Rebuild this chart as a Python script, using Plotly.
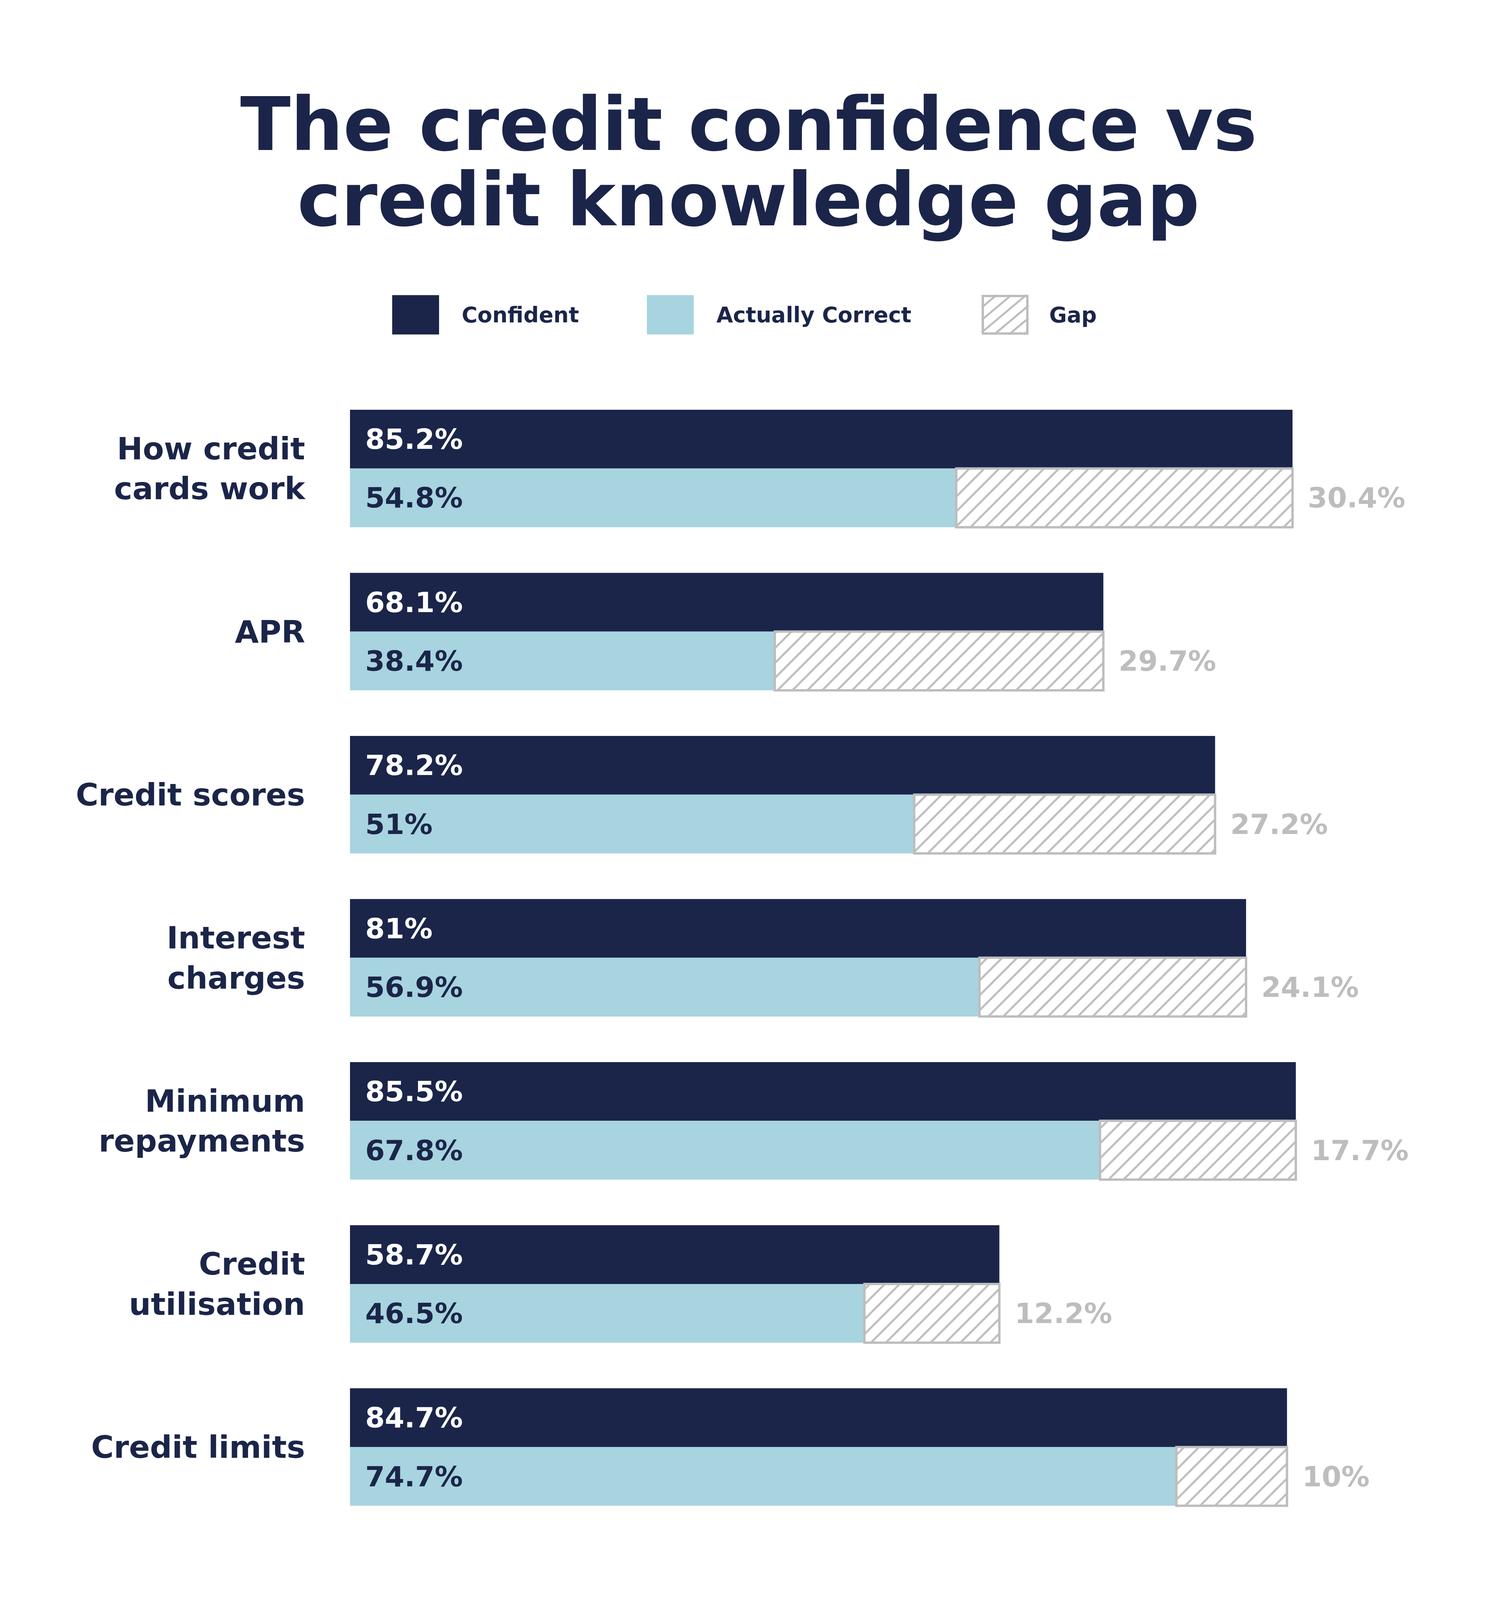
import plotly.graph_objects as go

# ---------------- data ----------------
categories = ["How credit<br>cards work", "APR", "Credit scores", "Interest<br>charges",
              "Minimum<br>repayments", "Credit<br>utilisation", "Credit limits"]
confident = [85.2, 68.1, 78.2, 81.0, 85.5, 58.7, 84.7]
correct = [54.8, 38.4, 51.0, 56.9, 67.8, 46.5, 74.7]
gap = [30.4, 29.7, 27.2, 24.1, 17.7, 12.2, 10.0]
series_names = ["Confident", "Actually Correct", "Gap"]
title_lines = ["The credit confidence vs", "credit knowledge gap"]

# ---------------- style / layout (design page = 3840 x 4951) ----------------
PAGE_W, PAGE_H = 3840, 4951
OFF = 8                      # body margin of the html page
FIG_W = PAGE_W - 2 * OFF
FIG_H = PAGE_H - 2 * OFF     # height follows the window (100vh - 16px)
ML = 896 - OFF
MR = FIG_W - (3728 - OFF)
PLOT_TOP, PLOT_BOT = 1196.5, 4731.5   # page pixels of the plot area
NAVY = "#1B2549"
BLUE = "#A7D4DF"
GREY = "#BDBDBD"
FONT = "DejaVu Sans"
PAD = "\u2002"


def fmt(v):
    return f"{v:g}%"


def fx(px):
    """page x pixel -> paper fraction"""
    return (px - OFF - ML) / (FIG_W - ML - MR)


def fy(py):
    """page y pixel -> paper fraction (vertical layout scales with window)"""
    return 1 - (py - OFF) / FIG_H


fig = go.Figure()

fig.add_trace(go.Bar(
    y=categories, x=confident, orientation="h", name=series_names[0],
    offsetgroup="c", marker=dict(color=NAVY, line=dict(width=0)),
    text=[PAD + fmt(v) for v in confident], textposition="inside",
    insidetextanchor="start", textangle=0, constraintext="none",
    textfont=dict(family=FONT, size=72, color="white", weight=700),
    showlegend=False,
))
fig.add_trace(go.Bar(
    y=categories, x=correct, orientation="h", name=series_names[1],
    offsetgroup="a", marker=dict(color=BLUE, line=dict(width=0)),
    text=[PAD + fmt(v) for v in correct], textposition="inside",
    insidetextanchor="start", textangle=0, constraintext="none",
    textfont=dict(family=FONT, size=72, color=NAVY, weight=700),
    showlegend=False,
))
fig.add_trace(go.Bar(
    y=categories, x=gap, base=correct, orientation="h", name=series_names[2],
    offsetgroup="a",
    marker=dict(color="white", line=dict(color=GREY, width=6),
                pattern=dict(shape="/", fgcolor=GREY, bgcolor="white",
                             size=27, solidity=0.19, fillmode="replace")),
    text=[PAD + fmt(v) for v in gap], textposition="outside", textangle=0,
    constraintext="none", cliponaxis=False,
    textfont=dict(family=FONT, size=72, color=GREY, weight=700),
    showlegend=False,
))

# ---------------- title ----------------
annotations = []
for line, cy in zip(title_lines, [384, 618]):
    annotations.append(dict(
        text=line, xref="paper", yref="paper", x=fx(1916), y=fy(cy),
        xanchor="center", yanchor="middle", showarrow=False,
        font=dict(family=FONT, size=189, color=NAVY, weight=700),
    ))

# ---------------- legend (manual, large swatches) ----------------
shapes = []
sw_top, sw_bot = 912, 1034
sw_cy = (sw_top + sw_bot) / 2
sw_size = 120
sw_x = [1004, 1656, 2513]
txt_x = [1180, 1832, 2684]
fills = [NAVY, BLUE, None]
for name, x0, tx, fc in zip(series_names, sw_x, txt_x, fills):
    base = dict(xref="paper", yref="paper", xsizemode="pixel", xanchor=fx(x0),
                layer="above")
    if fc is not None:
        shapes.append(dict(base, type="rect", x0=0, x1=sw_size,
                           y0=fy(sw_bot), y1=fy(sw_top),
                           fillcolor=fc, line=dict(width=0)))
    else:
        step = 38
        c = -sw_size
        while c < sw_size:
            pts = []
            for t in [0, sw_size]:
                u = t - c
                if 0 <= u <= sw_size:
                    pts.append((t, u))
            for u in [0, sw_size]:
                t = u + c
                if 0 <= t <= sw_size:
                    pts.append((t, u))
            pts = sorted(set(pts))
            if len(pts) >= 2:
                (ax, au), (bx, bu) = pts[0], pts[-1]
                shapes.append(dict(base, type="line", x0=ax, x1=bx,
                                   y0=fy(sw_bot - au * (sw_bot - sw_top) / sw_size),
                                   y1=fy(sw_bot - bu * (sw_bot - sw_top) / sw_size),
                                   line=dict(color=GREY, width=5)))
            c += step
        shapes.append(dict(base, type="rect", x0=3, x1=sw_size - 3,
                           y0=fy(sw_bot - 3), y1=fy(sw_top + 3),
                           fillcolor="rgba(0,0,0,0)", line=dict(color=GREY, width=6)))
    annotations.append(dict(
        text=name, xref="paper", yref="paper", x=fx(tx), y=fy(sw_cy),
        xanchor="left", yanchor="middle", showarrow=False,
        font=dict(family=FONT, size=55, color=NAVY, weight=700),
    ))

fig.update_layout(
    width=FIG_W, autosize=True,
    margin=dict(l=ML, r=MR, t=0, b=0, autoexpand=False),
    paper_bgcolor="white", plot_bgcolor="white",
    barmode="group", bargap=0.28, bargroupgap=0,
    showlegend=False,
    xaxis=dict(range=[0, 100], showgrid=False, zeroline=False,
               showticklabels=False, showline=False, fixedrange=True),
    yaxis=dict(domain=[fy(PLOT_BOT), fy(PLOT_TOP)],
               categoryorder="array", categoryarray=categories,
               autorange="reversed", showgrid=False, zeroline=False,
               showline=False, ticks="", ticklabelstandoff=114,
               tickfont=dict(family=FONT, size=79, color=NAVY, weight=700)),
    annotations=annotations, shapes=shapes,
    uniformtext=dict(mode=False),
)

fig.write_html("out.html", default_height="calc(100vh - 16px)")
